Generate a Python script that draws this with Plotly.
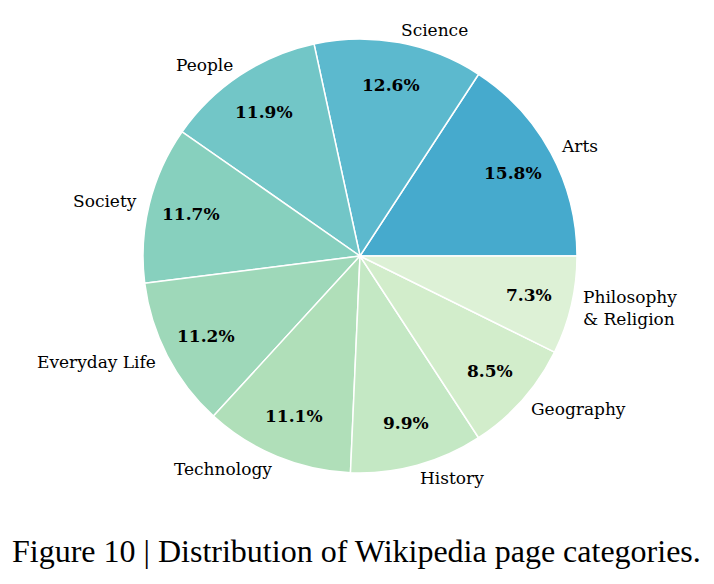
import numpy as np
import plotly.graph_objects as go

categories = ["Arts", "Science", "People", "Society", "Everyday Life",
              "Technology", "History", "Geography", "Philosophy<br>& Religion"]
shares = [15.8, 12.6, 11.9, 11.7, 11.2, 11.1, 9.9, 8.5, 7.3]
colors = ["#46AACD", "#5CB9CE", "#72C6C7", "#87D0BE", "#9ED8B9",
          "#B0DFB9", "#C4E8C4", "#D2EDCB", "#DDF1D6"]
caption = "Figure 10 | Distribution of Wikipedia page categories."

W, H = 714, 584
ml, mr, mt, mb = 143, 137, 39, 111

total = sum(shares)
first_angle = shares[0] / total * 360.0

fig = go.Figure(go.Pie(
    labels=categories, values=shares, sort=False,
    direction="counterclockwise", rotation=90 - first_angle,
    marker=dict(colors=colors, line=dict(color="white", width=1.5)),
    textinfo="none", hoverinfo="label+percent", showlegend=False,
    domain=dict(x=[0, 1], y=[0, 1]),
))

cum = np.cumsum([0] + shares)
annotations = []
label_font = dict(family="DejaVu Serif", size=17, color="black")
for i, (cat, v) in enumerate(zip(categories, shares)):
    mid = np.deg2rad((cum[i] + v / 2) / total * 360.0)
    c, s = np.cos(mid), np.sin(mid)
    annotations.append(dict(
        x=0.5 + 1.06 * 0.5 * c, y=0.5 + 1.06 * 0.5 * s,
        xref="paper", yref="paper", text=cat, showarrow=False,
        xanchor="left" if c > 0 else "right", yanchor="middle",
        xshift=-2 if c > 0 else 1, borderpad=0,
        align="left" if c > 0 else "right", font=label_font))
    annotations.append(dict(
        x=0.5 + 0.8 * 0.5 * c, y=0.5 + 0.8 * 0.5 * s,
        xref="paper", yref="paper", text=f"<b>{v / total * 100:.1f}%</b>",
        showarrow=False, xanchor="center", yanchor="middle",
        font=dict(family="DejaVu Serif", size=17, color="black")))

annotations.append(dict(
    x=(356 - ml) / (W - ml - mr), y=-(551 - (H - mb)) / (H - mt - mb),
    xref="paper", yref="paper", text=caption, showarrow=False,
    xanchor="center", yanchor="middle",
    font=dict(family="Liberation Serif", size=32, color="black")))

fig.update_layout(
    width=W, height=H, margin=dict(l=ml, r=mr, t=mt, b=mb),
    paper_bgcolor="white", plot_bgcolor="white",
    annotations=annotations,
)
fig.write_html("out.html")
